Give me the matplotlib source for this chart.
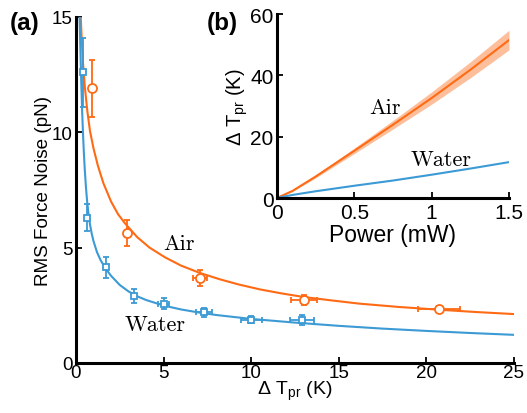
import numpy as np
import matplotlib
matplotlib.use("Agg")
import matplotlib.pyplot as plt

plt.rcParams['font.family'] = ['Liberation Sans', 'DejaVu Sans']
plt.rcParams['mathtext.fontset'] = 'custom'
plt.rcParams['mathtext.rm'] = 'Liberation Sans'
plt.rcParams['mathtext.it'] = 'Liberation Sans:italic'
plt.rcParams['mathtext.bf'] = 'Liberation Sans:bold'

orange = '#ff6a14'
blue = '#3c9ad4'

# (a) measured points
water_dT = [0.38, 0.62, 1.7, 3.3, 5.0, 7.3, 10.0, 12.9]
water_F = [12.6, 6.3, 4.15, 2.9, 2.57, 2.2, 1.87, 1.86]
water_dT_err = [0, 0, 0, 0, 0.3, 0.45, 0.6, 0.7]
water_F_err = [1.5, 0.6, 0.45, 0.3, 0.25, 0.2, 0.15, 0.2]

air_dT = [0.91, 2.9, 7.08, 13.0, 20.7]
air_F = [11.9, 5.64, 3.7, 2.73, 2.34]
air_dT_err = [0, 0, 0.4, 0.75, 1.2]
air_F_err = [1.25, 0.55, 0.35, 0.2, 0.15]

# (a) fit curves
air_fit_x = [0.27, 0.33, 0.4, 0.5, 0.65, 0.8, 1.0, 1.25, 1.56, 2.0, 2.4, 2.8, 3.5, 4.2,
             5.08, 6.0, 7.08, 8.2, 9.3, 10.5, 11.7, 13.0, 14.5, 16.2, 18.4, 20.7, 22.8, 25.0]
air_fit_y = [15.0, 14.0, 13.0, 12.0, 10.9, 10.05, 9.3, 8.55, 7.8, 7.0, 6.45, 6.05, 5.45, 5.0,
             4.58, 4.22, 3.9, 3.63, 3.4, 3.19, 3.02, 2.86, 2.72, 2.57, 2.43, 2.31, 2.21, 2.12]
water_fit_x = [0.2, 0.22, 0.25, 0.3, 0.35, 0.4, 0.45, 0.5, 0.56, 0.63, 0.7, 0.8, 0.9, 1.0,
               1.2, 1.41, 1.7, 2.0, 2.5, 3.0, 3.5, 4.0, 5.0, 6.0, 7.0, 8.0, 10.0, 12.5,
               15.0, 17.5, 20.0, 22.5, 25.0]
water_fit_y = [15.2, 14.5, 13.6, 12.2, 10.95, 9.95, 9.1, 8.4, 7.7, 7.05, 6.55, 6.0, 5.6, 5.28,
               4.8, 4.45, 4.08, 3.78, 3.38, 3.1, 2.89, 2.73, 2.49, 2.32, 2.19, 2.08, 1.91, 1.75,
               1.61, 1.49, 1.39, 1.3, 1.22]

# (b) heating vs power
power = [0, 0.1, 0.25, 0.5, 0.75, 1.0, 1.25, 1.5]
air_dT_power = [0, 2.3, 7.0, 15.4, 23.9, 32.6, 41.8, 51.5]
air_band = [0, 0.15, 0.45, 0.9, 1.4, 2.0, 2.6, 3.2]
water_dT_power = [0, 1.0, 2.2, 4.0, 5.7, 7.6, 9.6, 11.7]

fig = plt.figure(figsize=(5.27, 4.14), dpi=100)
ax = fig.add_axes([0.1442, 0.1208, 0.831, 0.836])

ax.plot(air_fit_x, air_fit_y, color=orange, lw=1.5)
ax.plot(water_fit_x, water_fit_y, color=blue, lw=1.5)
ax.errorbar(air_dT, air_F, yerr=air_F_err, xerr=air_dT_err, fmt='o', color=orange,
            mfc='white', mec=orange, ms=6.5, mew=1.3, elinewidth=1.3, capsize=2.5, capthick=1.2)
ax.errorbar(water_dT, water_F, yerr=water_F_err, xerr=water_dT_err, fmt='s', color=blue,
            mfc='white', mec=blue, ms=5, mew=1.3, elinewidth=1.3, capsize=2.5, capthick=1.2)

ax.text(4.97, 4.94, 'Air', family='cmr10', fontsize=16)
ax.text(2.8, 1.44, 'Water', family='cmr10', fontsize=16)

ax.set_xlim(0, 25)
ax.set_ylim(0, 15)
ax.set_xticks([0, 5, 10, 15, 20, 25])
ax.set_yticks([0, 5, 10, 15])
ax.set_xlabel(r'$\Delta\ \mathrm{T}_{\mathrm{pr}}$ (K)', fontsize=14, labelpad=-2)
ax.set_ylabel('RMS Force Noise (pN)', fontsize=13.6, labelpad=-0.5)

# inset
ins = fig.add_axes([0.5256, 0.5193, 0.4402, 0.4444])
ins.set_facecolor('none')
lo = [a - b for a, b in zip(air_dT_power, air_band)]
hi = [a + b for a, b in zip(air_dT_power, air_band)]
ins.fill_between(power, lo, hi, color='#fdb48a', lw=0, alpha=0.85)
ins.plot(power, air_dT_power, color=orange, lw=1.5)
ins.plot(power, water_dT_power, color=blue, lw=1.5)
ins.text(0.595, 27.7, 'Air', family='cmr10', fontsize=16)
ins.text(0.866, 10.8, 'Water', family='cmr10', fontsize=16)
ins.set_xlim(0, 1.5)
ins.set_ylim(0, 60)
ins.set_xticks([0, 0.5, 1, 1.5])
ins.set_xticklabels(['0', '0.5', '1', '1.5'])
ins.set_yticks([0, 20, 40, 60])
ins.set_xlabel('Power (mW)', fontsize=16.5, labelpad=0.5)
ins.set_ylabel(r'$\Delta\ \mathrm{T}_{\mathrm{pr}}$ (K)', fontsize=14.5, labelpad=0)

for a in (ax, ins):
    for s in ('top', 'right'):
        a.spines[s].set_visible(False)
    for s in ('left', 'bottom'):
        a.spines[s].set_linewidth(2.2)
    a.tick_params(direction='in', length=4, width=1.3)
ax.tick_params(labelsize=13.5)
ins.tick_params(labelsize=15)
ax.tick_params(axis='x', pad=1)
ax.tick_params(axis='y', pad=2.5)
ins.tick_params(axis='x', pad=3.5)
ins.tick_params(axis='y', pad=2.5)

fig.text(0.019, 0.9275, '(a)', fontsize=17.5, fontweight='bold')
fig.text(0.393, 0.9275, '(b)', fontsize=17.5, fontweight='bold')

fig.savefig('out.png', dpi=100)
